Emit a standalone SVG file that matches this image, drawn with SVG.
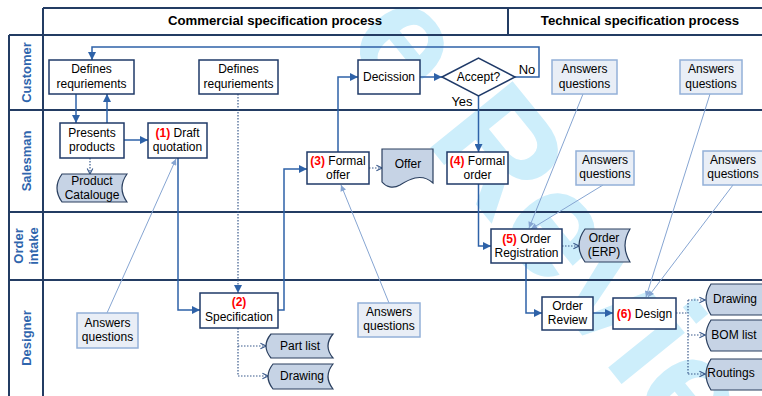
<svg xmlns="http://www.w3.org/2000/svg" width="762" height="396" viewBox="0 0 762 396">
<defs>
<style>
text{font-family:"Liberation Sans",Arial,sans-serif;font-size:12px;fill:#000;text-anchor:middle}
.hd{font-size:13.2px;font-weight:bold}
.ln{font-size:13px;font-weight:bold;fill:#2f65ad}
.red{fill:#ff0000;font-weight:bold}
.lbl{font-size:13px}
.grid{stroke:#233c63;stroke-width:2;fill:none}
.box{fill:#fff;stroke:#1f3a68;stroke-width:1.5}
.ans{fill:#e9eef6;stroke:#93b0d8;stroke-width:1.5}
.data{fill:#c6d3e5;stroke:#2a3f5f;stroke-width:1.2}
.c{fill:none;stroke:#2e62a8;stroke-width:1.5}
.d{fill:none;stroke:#3a5a8c;stroke-width:1.2;stroke-dasharray:1.5 1.5}
.t{fill:none;stroke:#86a5d2;stroke-width:1}
.wm{font-size:154px;font-weight:bold;fill:#cdeefb;text-anchor:start}
</style>
<marker id="a" viewBox="0 0 10 10" refX="10" refY="5" markerWidth="9" markerHeight="8" markerUnits="userSpaceOnUse" orient="auto"><path d="M0,0 L10,5 L0,10 z" fill="#2e62a8"/></marker>
<marker id="o" viewBox="0 0 10 10" refX="9" refY="5" markerWidth="7" markerHeight="8" markerUnits="userSpaceOnUse" orient="auto"><path d="M1,1 L9,5 L1,9" fill="none" stroke="#3a5a8c" stroke-width="1.6"/></marker>
<marker id="tm" viewBox="0 0 10 10" refX="10" refY="5" markerWidth="7" markerHeight="6" markerUnits="userSpaceOnUse" orient="auto"><path d="M0,0 L10,5 L0,10 z" fill="#86a5d2"/></marker>
</defs>
<rect width="762" height="396" fill="#fff"/>
<text class="wm" transform="translate(343,40) rotate(51)">e Review</text>
<g id="lanes">
<path class="grid" d="M43,8 H770 M9,35 H770 M9,110 H770 M9,212 H770 M9,280 H770 M9,35 V400 M43,8 V400 M508,8 V35"/>
<text class="hd" x="275" y="25">Commercial specification process</text>
<text class="hd" x="640" y="25">Technical specification process</text>
<text class="ln" transform="translate(26,72.5) rotate(-90)" y="4.5">Customer</text>
<text class="ln" transform="translate(26,161) rotate(-90)" y="4.5">Salesman</text>
<text class="ln" transform="translate(26,246) rotate(-90)"><tspan x="0" y="-3">Order</tspan><tspan x="0" y="12">intake</tspan></text>
<text class="ln" transform="translate(26,338) rotate(-90)" y="4.5">Designer</text>
</g>
<g id="connectors">
<path class="c" d="M76,94 V123" marker-end="url(#a)"/>
<path class="c" d="M107,123 V94" marker-end="url(#a)"/>
<path class="c" d="M124,140 H148" marker-end="url(#a)"/>
<path class="d" d="M90,158 V174" marker-end="url(#o)"/>
<path class="c" d="M178,158 V310 H200" marker-end="url(#a)"/>
<path class="d" d="M238,94 V293" marker-end="url(#a)"/>
<path class="c" d="M278,310 H284 V169 H307" marker-end="url(#a)"/>
<path class="c" d="M338,152 V77 H358" marker-end="url(#a)"/>
<path class="d" d="M369,168 H382" marker-end="url(#o)"/>
<path class="c" d="M420,77 H442" marker-end="url(#a)"/>
<path class="c" d="M515,77 H539 V47 H92 V60" marker-end="url(#a)"/>
<path class="c" d="M478.5,96 V152" marker-end="url(#a)"/>
<path class="c" d="M478.5,184 V246 H491" marker-end="url(#a)"/>
<path class="d" d="M562,246 H579" marker-end="url(#o)"/>
<path class="c" d="M526,263 V313 H542" marker-end="url(#a)"/>
<path class="c" d="M593,313 H613" marker-end="url(#a)"/>
<path class="d" d="M676,313 H688 M688,300 V374"/>
<path class="d" d="M688,300 H705" marker-end="url(#o)"/>
<path class="d" d="M688,335 H705" marker-end="url(#o)"/>
<path class="d" d="M688,374 H705" marker-end="url(#o)"/>
<path class="d" d="M238,328 V376 H268" marker-end="url(#o)"/>
<path class="d" d="M238,346 H266" marker-end="url(#o)"/>
<path class="t" d="M107,313 L176,159" marker-end="url(#tm)"/>
<path class="t" d="M389,303 L341,185" marker-end="url(#tm)"/>
<path class="t" d="M583,94 L529,228" marker-end="url(#tm)"/>
<path class="t" d="M603,185 L531,229" marker-end="url(#tm)"/>
<path class="t" d="M710,94 L646,297" marker-end="url(#tm)"/>
<path class="t" d="M733,185 L648,297" marker-end="url(#tm)"/>
<text class="lbl" x="527" y="74">No</text>
<text class="lbl" x="462" y="106">Yes</text>
</g>
<g id="n-defines1"><rect class="box" x="49" y="60" width="85" height="34"/><text x="91.5" y="73">Defines</text><text x="91.5" y="88">requriements</text></g>
<g id="n-defines2"><rect class="box" x="199" y="60" width="79" height="34"/><text x="238.5" y="73">Defines</text><text x="238.5" y="88">requriements</text></g>
<g id="n-decission"><rect class="box" x="358" y="60" width="62" height="34"/><text x="389" y="81">Decission</text></g>
<g id="n-accept"><polygon class="box" points="442,77 478.5,58 515,77 478.5,96"/><text x="478.5" y="81">Accept?</text></g>
<g id="n-ans1"><rect class="ans" x="552" y="60" width="65" height="34"/><text x="584.5" y="73">Answers</text><text x="584.5" y="88">questions</text></g>
<g id="n-ans2"><rect class="ans" x="680" y="60" width="62" height="34"/><text x="711" y="73">Answers</text><text x="711" y="88">questions</text></g>
<g id="n-presents"><rect class="box" x="60" y="123" width="64" height="35"/><text x="92" y="137">Presents</text><text x="92" y="151">products</text></g>
<g id="n-draft"><rect class="box" x="148" y="123" width="59" height="35"/><text x="177.5" y="137"><tspan class="red">(1)</tspan> Draft</text><text x="177.5" y="151">quotation</text></g>
<g id="n-catalogue"><path class="data" d="M62,174 H127 Q117,188 127,202 H62 Q52,188 62,174 Z"/><text x="92" y="185">Product</text><text x="92" y="199">Catalouge</text></g>
<g id="n-formaloffer"><rect class="box" x="307" y="152" width="62" height="32"/><text x="338" y="165"><tspan class="red">(3)</tspan> Formal</text><text x="338" y="179">offer</text></g>
<g id="n-offer"><path class="data" d="M382,149 H433 V183 C421,172 408,180 400,185 C393,189 386,187 382,182 Z"/><text x="408" y="168">Offer</text></g>
<g id="n-formalorder"><rect class="box" x="447" y="152" width="61" height="32"/><text x="477.5" y="165"><tspan class="red">(4)</tspan> Formal</text><text x="477.5" y="179">order</text></g>
<g id="n-ans3"><rect class="ans" x="576" y="151" width="58" height="34"/><text x="605" y="164">Answers</text><text x="605" y="178">questions</text></g>
<g id="n-ans4"><rect class="ans" x="703" y="151" width="60" height="34"/><text x="733" y="164">Answers</text><text x="733" y="178">questions</text></g>
<g id="n-orderreg"><rect class="box" x="491" y="229" width="71" height="34"/><text x="526.5" y="243"><tspan class="red">(5)</tspan> Order</text><text x="526.5" y="257">Registration</text></g>
<g id="n-ordererp"><path class="data" d="M585,229 H630 Q620,245.5 630,262 H585 Q573,245.5 585,229 Z"/><text x="604" y="242">Order</text><text x="604" y="256">(ERP)</text></g>
<g id="n-spec"><rect class="box" x="200" y="293" width="78" height="35"/><text x="239" y="306" class="red">(2)</text><text x="239" y="321">Specification</text></g>
<g id="n-ans5"><rect class="ans" x="77" y="313" width="61" height="35"/><text x="107.5" y="327">Answers</text><text x="107.5" y="341">questions</text></g>
<g id="n-ans6"><rect class="ans" x="358" y="303" width="62" height="34"/><text x="389" y="316">Answers</text><text x="389" y="330">questions</text></g>
<g id="n-partlist"><path class="data" d="M271,334 H333 Q323,346 333,358 H271 Q261,346 271,334 Z"/><text x="300" y="350">Part list</text></g>
<g id="n-drawing1"><path class="data" d="M273,364 H333 Q323,376.5 333,389 H273 Q263,376.5 273,364 Z"/><text x="302" y="380">Drawing</text></g>
<g id="n-orderreview"><rect class="box" x="542" y="297" width="51" height="33"/><text x="567.5" y="310">Order</text><text x="567.5" y="324">Review</text></g>
<g id="n-design"><rect class="box" x="613" y="298" width="63" height="31"/><text x="644.5" y="318"><tspan class="red">(6)</tspan> Design</text></g>
<g id="n-drawing2"><path class="data" d="M711,284 H768 Q758,299.5 768,315 H711 Q701,299.5 711,284 Z"/><text x="735" y="303">Drawing</text></g>
<g id="n-bom"><path class="data" d="M711,320 H768 Q758,335.5 768,351 H711 Q701,335.5 711,320 Z"/><text x="734" y="339">BOM list</text></g>
<g id="n-routings"><path class="data" d="M711,359 H768 Q758,374.5 768,390 H711 Q701,374.5 711,359 Z"/><text x="731" y="377">Routings</text></g>
</svg>
